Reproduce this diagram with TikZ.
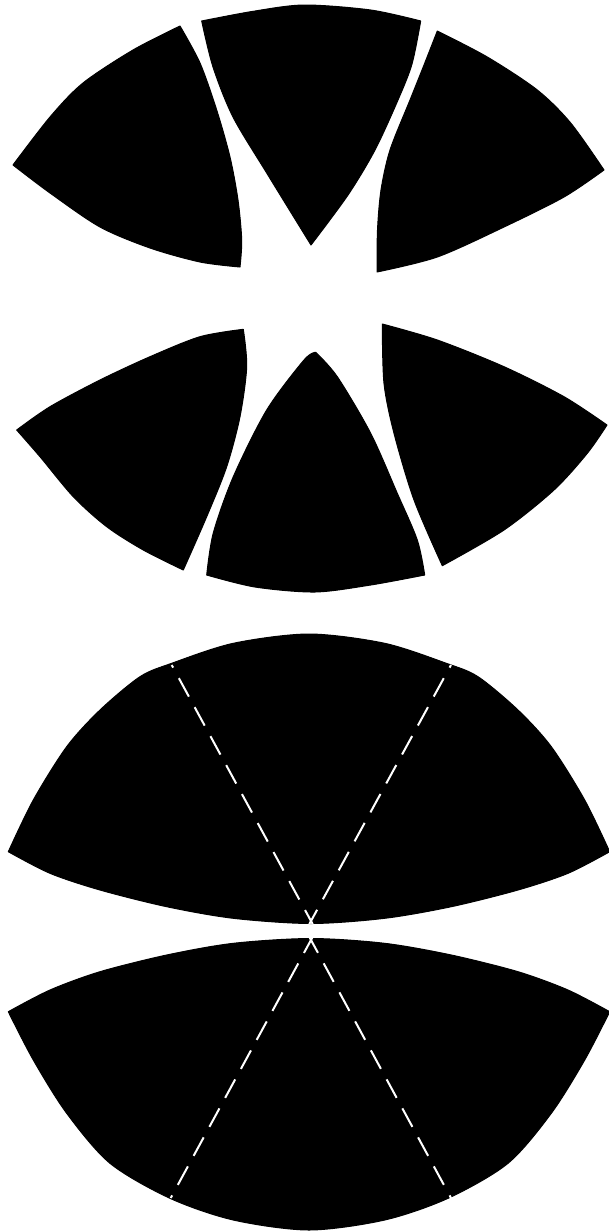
\documentclass[tikz,border=0pt]{standalone}
\usetikzlibrary{calc}
\begin{document}
\begin{tikzpicture}[x=1pt,y=-1pt,
  piece/.style={fill=black,draw=black,line width=1pt,line join=round},
  seam/.style={draw=white,line width=2pt,dash pattern=on 21pt off 12pt,dash phase=18pt}]
\useasboundingbox[fill=white] (0,0) rectangle (608,1232);
% ---------- top group ----------
\path[piece] plot[smooth] coordinates {(180,26) (133,50) (83,83) (50,117) (13,165)}
  -- plot[smooth] coordinates {(13,165) (50,193) (100,227) (150,248) (200,262) (240,267)}
  -- plot[smooth] coordinates {(240,267) (241.7,240) (238,200) (230,157) (216.7,110) (200,63) (180,26)} -- cycle;
\path[piece] plot[smooth] coordinates {(201.7,21) (252,11.5) (304,5) (370.7,10) (420.7,21)}
  -- plot[smooth] coordinates {(420.7,21) (412,64) (398,100) (375,150) (348,195) (311,245)}
  -- plot[smooth] coordinates {(311,245) (266.7,173) (233,117) (213,67) (201.7,21)} -- cycle;
\path[piece] plot[smooth] coordinates {(437.3,31) (487.3,57) (537.3,90) (570.7,123) (604,170)}
  -- plot[smooth] coordinates {(604,170) (564,197) (504,227) (437.3,257) (377,272)}
  -- plot[smooth] coordinates {(377,272) (377.5,230) (381,190) (390,150) (410,100) (424,65) (437.3,31)} -- cycle;
% ---------- middle group ----------
\path[piece] plot[smooth] coordinates {(243.3,329.3) (200,336.7) (150,356.7) (100,380) (50,406.7) (16.7,430)}
  -- plot[smooth] coordinates {(16.7,430) (40,456.7) (73.3,496.7) (106.7,526.7) (143.3,550) (183.3,570)}
  -- plot[smooth] coordinates {(183.3,570) (206.7,516.7) (226.7,466.7) (240,416.7) (246.7,366.7) (243.3,329.3)} -- cycle;
\path[piece] plot[smooth] coordinates {(315.7,352.3) (304,360) (266.7,410) (233.3,476.7) (213.3,533) (206.7,575)}
  -- plot[smooth] coordinates {(206.7,575) (255,587) (315,592) (370.7,585) (424.7,575)}
  -- plot[smooth] coordinates {(424.7,575) (417.3,540) (397.3,493.3) (370.7,433.3) (337.3,376.7) (315.7,352.3)} -- cycle;
\path[piece] plot[smooth] coordinates {(382.3,324) (437.3,340) (504,366.7) (564,396.7) (607,425)}
  -- plot[smooth] coordinates {(607,425) (587.3,453.3) (554,490) (504,530) (442.3,565.7)}
  -- plot[smooth] coordinates {(442.3,565.7) (414,500) (394,433.3) (384,383.3) (382.3,324)} -- cycle;
% ---------- bottom group ----------
\path[piece] plot[smooth] coordinates {(8.3,851.7) (33.3,800) (66.7,746.7) (100,710) (140,676.7) (171.7,663.3) (233.3,643.3) (309,634) (384.7,643.3) (446.3,663.3) (478,676.7) (518,710) (551.3,746.7) (584.7,800) (609.7,851.7)}
  -- plot[smooth] coordinates {(609.7,851.7) (568,873.3) (518,890) (451.3,906.7) (384.7,918.3) (311,923.5) (233.3,918.3) (166.7,906.7) (100,890) (50,873.3) (8.3,851.7)} -- cycle;
\path[piece] plot[smooth] coordinates {(8.3,1011.7) (50,990) (100,971.7) (166.7,955) (233.3,943.3) (311,938.5) (384.7,943.3) (451.3,955) (518,971.7) (568,990) (609.7,1011.7)}
  -- plot[smooth] coordinates {(609.7,1011.7) (584.7,1060) (551.3,1113.3) (508,1163.3) (448,1198.3) (384.7,1220) (309,1230) (233.3,1220) (170,1198.3) (110,1163.3) (66.7,1113.3) (33.3,1060) (8.3,1011.7)} -- cycle;
% seams
\coordinate (ua) at (171.7,665);
\coordinate (ub) at (451,665);
\coordinate (ux) at (311,921);
\coordinate (la) at (170.7,1198);
\coordinate (lb) at (451,1198);
\coordinate (lx) at (311,940);
\draw[seam] (ua) -- ($(ua)!1.012!(ux)$);
\draw[seam] (ub) -- ($(ub)!1.012!(ux)$);
\draw[seam] (la) -- ($(la)!1.012!(lx)$);
\draw[seam] (lb) -- ($(lb)!1.012!(lx)$);
\end{tikzpicture}
\end{document}
